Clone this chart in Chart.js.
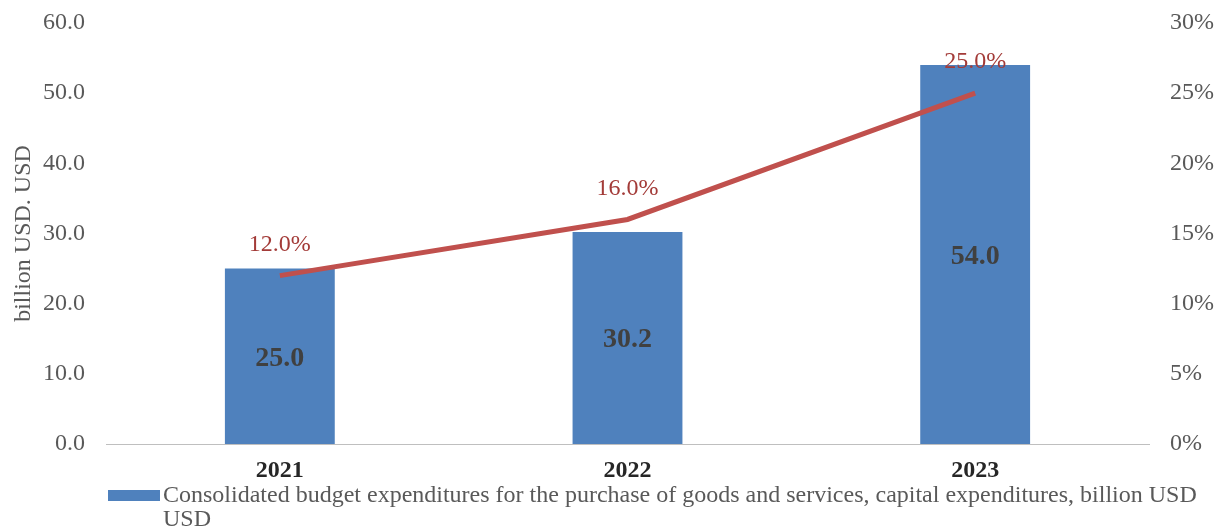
<!DOCTYPE html>
<html>
<head>
<meta charset="utf-8">
<script src="https://cdn.jsdelivr.net/npm/chart.js"></script>
<style>
  html, body { margin: 0; padding: 0; background: #fff; }
  #wrap { width: 1224px; height: 531px; }
</style>
</head>
<body>
<div id="wrap"><canvas id="myChart" width="1224" height="531"></canvas></div>
<script>
// chart data
const years = ['2021', '2022', '2023'];
const spending = [25.0, 30.2, 54.0];
const shareGrowth = [12.0, 16.0, 25.0];
const legendText = 'Consolidated budget expenditures for the purchase of goods and services, capital expenditures, billion USD USD';

const SERIF = '"Liberation Serif", "Times New Roman", serif';
const BLUE = '#4F81BD';
const RED = '#C0504D';

// value labels + wrapped legend drawn by hand
const labelsPlugin = {
  id: 'labels',
  afterDatasetsDraw(chart) {
    const ctx = chart.ctx;
    ctx.save();
    ctx.textAlign = 'center';
    ctx.textBaseline = 'middle';
    chart.getDatasetMeta(1).data.forEach((bar, i) => {
      ctx.font = 'bold 28px ' + SERIF;
      ctx.fillStyle = '#404040';
      ctx.fillText(spending[i].toFixed(1), bar.x, (bar.y + bar.base) / 2 + 2);
    });
    chart.getDatasetMeta(0).data.forEach((pt, i) => {
      ctx.font = '24px ' + SERIF;
      ctx.fillStyle = '#A33B38';
      ctx.fillText(shareGrowth[i].toFixed(1) + '%', pt.x, pt.y - 31);
    });
    ctx.restore();
  },
  afterDraw(chart) {
    const ctx = chart.ctx;
    ctx.save();
    ctx.fillStyle = BLUE;
    ctx.fillRect(108, 490, 52, 11);
    ctx.font = '24px ' + SERIF;
    ctx.fillStyle = '#595959';
    ctx.textBaseline = 'middle';
    ctx.textAlign = 'left';
    const words = legendText.split(' ');
    let line = '', y = 496;
    words.forEach(w => {
      const test = line ? line + ' ' + w : w;
      if (ctx.measureText(test).width > 1050 && line) {
        ctx.fillText(line, 163, y);
        line = w;
        y += 24;
      } else {
        line = test;
      }
    });
    ctx.fillText(line, 163, y);
    ctx.restore();
  }
};

// keep the plot box where the original has it
function fixY(width) {
  return s => { s.width = width; s.paddingTop = 0; s.paddingBottom = 0; };
}

new Chart(document.getElementById('myChart'), {
  data: {
    labels: years,
    datasets: [
      {
        type: 'line',
        label: 'growth',
        data: shareGrowth,
        yAxisID: 'y2',
        borderColor: RED,
        borderWidth: 5,
        pointRadius: 0,
        fill: false,
        order: 0
      },
      {
        type: 'bar',
        label: legendText,
        data: spending,
        yAxisID: 'y',
        backgroundColor: BLUE,
        barPercentage: 0.316,
        categoryPercentage: 1.0,
        order: 1
      }
    ]
  },
  options: {
    responsive: false,
    animation: false,
    layout: { padding: { top: 23, bottom: 46, left: 0, right: 0 } },
    plugins: {
      legend: { display: false },
      tooltip: { enabled: false }
    },
    scales: {
      x: {
        grid: { display: false, drawTicks: false },
        border: { color: '#BFBFBF', width: 1 },
        ticks: { color: '#262626', font: { family: SERIF, size: 24, weight: 'bold' }, padding: 12 },
        afterFit: s => { s.height = 41; s.paddingLeft = 0; s.paddingRight = 0; }
      },
      y: {
        position: 'left',
        min: 0, max: 60,
        ticks: { stepSize: 10, color: '#595959', font: { family: SERIF, size: 24 }, padding: 13,
          callback: v => v.toFixed(1) },
        grid: { display: false },
        border: { display: false },
        title: { display: true, text: 'billion USD. USD', color: '#595959', font: { family: SERIF, size: 24 }, padding: { top: 9, bottom: 0 } },
        afterFit: fixY(106)
      },
      y2: {
        position: 'right',
        min: 0, max: 30,
        ticks: { stepSize: 5, color: '#595959', font: { family: SERIF, size: 24 }, padding: 13,
          callback: v => v + '%' },
        grid: { display: false },
        border: { display: false },
        afterFit: fixY(75)
      }
    }
  },
  plugins: [labelsPlugin]
});
</script>
</body>
</html>
